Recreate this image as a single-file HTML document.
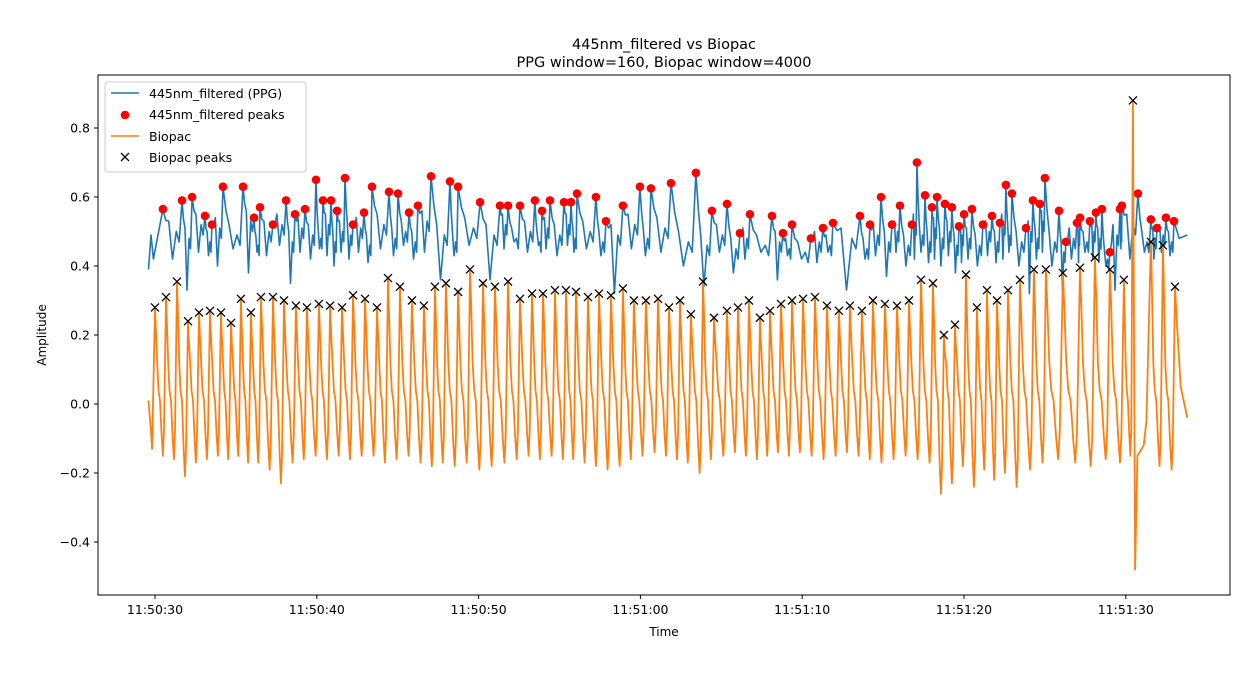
<!DOCTYPE html>
<html><head><meta charset="utf-8"><style>
html,body{margin:0;padding:0;background:#fff;}
svg text{font-family:"DejaVu Sans","Liberation Sans",sans-serif;}
</style></head><body>
<svg id="chart" width="1250" height="674" xmlns="http://www.w3.org/2000/svg">
<rect width="1250" height="674" fill="#fff"/>
<text x="664" y="49" font-size="14.5" text-anchor="middle">445nm_filtered vs Biopac</text>
<text x="664" y="67" font-size="14.5" text-anchor="middle">PPG window=160, Biopac window=4000</text>
<g id="plot"></g>
<rect x="98" y="75" width="1132" height="520" fill="none" stroke="#000" stroke-width="1"/>
<g id="axes"></g>
<text x="664" y="636" font-size="12" text-anchor="middle">Time</text>
<text x="46" y="335" font-size="12" text-anchor="middle" transform="rotate(-90 46 335)">Amplitude</text>
<g>
<rect x="105" y="82" width="201" height="90" rx="3" fill="#fff" fill-opacity="0.8" stroke="#ccc"/>
<line x1="111" y1="93" x2="139" y2="93" stroke="#1f77b4" stroke-width="1.5"/>
<text x="149" y="98" font-size="12.5">445nm_filtered (PPG)</text>
<circle cx="125" cy="115" r="4.3" fill="#ff0000"/>
<text x="149" y="119" font-size="12.5">445nm_filtered peaks</text>
<line x1="111" y1="136" x2="139" y2="136" stroke="#ff7f0e" stroke-width="1.5"/>
<text x="149" y="141" font-size="12.5">Biopac</text>
<path d="M121,153 l8,8 M129,153 l-8,8" stroke="#000" stroke-width="1.3"/>
<text x="149" y="162" font-size="12.5">Biopac peaks</text>
</g>
</svg>
<script>
// seconds after 11:50:30
const bioPeakT=[0.0,0.68,1.36,2.04,2.72,3.40,4.08,4.70,5.31,5.93,6.55,7.29,7.97,8.71,9.39,10.13,10.82,11.56,12.24,12.98,13.72,14.40,15.14,15.88,16.62,17.30,17.98,18.73,19.47,20.27,21.01,21.82,22.56,23.30,23.98,24.72,25.40,26.02,26.76,27.44,28.18,28.92,29.60,30.34,31.09,31.77,32.45,33.12,33.87,34.55,35.35,36.03,36.71,37.39,38.01,38.69,39.37,40.05,40.79,41.53,42.27,42.95,43.69,44.37,45.11,45.86,46.60,47.34,48.08,48.76,49.44,50.12,50.80,51.42,52.04,52.72,53.46,54.32,55.06,56.11,57.17,58.09,59.02,59.88,60.44,61.55,62.29,63.04];
const bioPeakV=[0.28,0.31,0.355,0.24,0.265,0.27,0.265,0.235,0.305,0.265,0.31,0.31,0.30,0.285,0.28,0.29,0.285,0.28,0.315,0.305,0.28,0.365,0.34,0.30,0.285,0.34,0.35,0.325,0.39,0.35,0.34,0.355,0.305,0.32,0.32,0.33,0.33,0.325,0.31,0.32,0.315,0.335,0.30,0.30,0.305,0.28,0.30,0.26,0.355,0.25,0.27,0.28,0.30,0.25,0.27,0.29,0.30,0.305,0.31,0.285,0.27,0.285,0.27,0.30,0.29,0.285,0.30,0.36,0.35,0.20,0.23,0.375,0.28,0.33,0.30,0.33,0.36,0.39,0.39,0.38,0.395,0.425,0.39,0.36,0.88,0.47,0.46,0.34];
const bioTrough=[-0.13,-0.15,-0.16,-0.21,-0.17,-0.16,-0.15,-0.16,-0.15,-0.17,-0.17,-0.19,-0.23,-0.17,-0.16,-0.15,-0.16,-0.15,-0.16,-0.15,-0.15,-0.17,-0.16,-0.15,-0.17,-0.18,-0.17,-0.18,-0.17,-0.19,-0.18,-0.17,-0.16,-0.15,-0.16,-0.15,-0.16,-0.16,-0.17,-0.18,-0.19,-0.18,-0.16,-0.15,-0.14,-0.15,-0.16,-0.17,-0.20,-0.16,-0.15,-0.14,-0.15,-0.16,-0.15,-0.14,-0.15,-0.14,-0.15,-0.16,-0.15,-0.14,-0.15,-0.16,-0.17,-0.16,-0.15,-0.16,-0.17,-0.26,-0.23,-0.18,-0.24,-0.19,-0.22,-0.20,-0.24,-0.19,-0.17,-0.16,-0.17,-0.18,-0.16,-0.17,-0.15,-0.48,-0.18,-0.19];
// fraction of beat interval where trough occurs (special beat after the large spike)
const bioTroughFrac={84:0.12};
const ppgPeakT=[0.49,1.67,2.29,3.09,3.52,4.20,5.44,6.12,6.49,7.29,8.10,8.65,9.27,9.95,10.38,10.88,11.25,11.74,12.24,12.92,13.41,14.46,15.02,15.70,16.25,17.06,18.23,18.73,20.09,21.32,21.82,22.56,23.48,23.92,24.41,25.28,25.71,26.08,27.25,27.87,28.92,29.97,30.65,31.89,33.43,34.42,35.35,36.15,36.77,38.13,38.81,39.37,40.54,41.28,41.90,43.57,44.19,44.87,45.55,46.04,46.78,47.09,47.59,48.02,48.33,48.82,49.25,49.69,50.00,50.49,51.17,51.73,52.22,52.59,52.96,53.83,54.26,54.69,55.00,55.87,56.30,56.98,57.17,57.78,58.15,58.52,59.02,59.64,59.76,60.75,61.55,61.92,62.48,62.98];
const ppgPeakV=[0.565,0.59,0.60,0.545,0.52,0.63,0.63,0.54,0.57,0.52,0.59,0.55,0.565,0.65,0.59,0.59,0.56,0.655,0.52,0.555,0.63,0.615,0.61,0.555,0.575,0.66,0.645,0.63,0.585,0.575,0.575,0.575,0.59,0.56,0.59,0.585,0.585,0.61,0.60,0.53,0.575,0.63,0.625,0.64,0.67,0.56,0.58,0.495,0.55,0.545,0.495,0.52,0.48,0.51,0.525,0.545,0.52,0.60,0.52,0.575,0.52,0.70,0.605,0.57,0.60,0.58,0.57,0.515,0.55,0.565,0.52,0.545,0.525,0.635,0.61,0.51,0.59,0.58,0.655,0.56,0.47,0.525,0.54,0.53,0.555,0.565,0.44,0.565,0.575,0.61,0.535,0.51,0.54,0.53];
const ppgTrough=[0.39,0.42,0.33,0.44,0.43,0.40,0.45,0.38,0.44,0.43,0.46,0.35,0.44,0.42,0.45,0.43,0.40,0.44,0.42,0.44,0.41,0.45,0.43,0.46,0.42,0.44,0.36,0.43,0.46,0.36,0.45,0.47,0.44,0.46,0.45,0.43,0.46,0.44,0.45,0.43,0.32,0.45,0.43,0.44,0.40,0.34,0.44,0.38,0.42,0.44,0.36,0.43,0.42,0.41,0.44,0.33,0.42,0.43,0.37,0.44,0.40,0.42,0.44,0.41,0.42,0.40,0.43,0.38,0.41,0.42,0.40,0.43,0.41,0.42,0.44,0.40,0.32,0.42,0.44,0.40,0.33,0.42,0.41,0.44,0.42,0.41,0.40,0.33,0.45,0.42,0.44,0.42,0.44,0.43,0.48];
const ppgMid=[0.47,0.50,0.48,0.52,0.47,0.51,0.49,0.53,0.46,0.50,0.52,0.47,0.51,0.49,0.48,0.52,0.47,0.50,0.49,0.51,0.46,0.52,0.48,0.50,0.47,0.53,0.49,0.47,0.51,0.49,0.52,0.48,0.50,0.47,0.51,0.49,0.52,0.48,0.50,0.47,0.49,0.52,0.48,0.51,0.47,0.46,0.49,0.45,0.48,0.46,0.47,0.45,0.44,0.47,0.46,0.48,0.45,0.49,0.47,0.50,0.46,0.52,0.49,0.47,0.51,0.48,0.50,0.46,0.49,0.48,0.46,0.50,0.47,0.52,0.49,0.47,0.50,0.48,0.53,0.47,0.44,0.48,0.49,0.47,0.50,0.48,0.42,0.49,0.50,0.52,0.47,0.48,0.49,0.47,0.48];
const yTicks=[-0.4,-0.2,0.0,0.2,0.4,0.6,0.8];
const xTicks=[0,10,20,30,40,50,60];
const xTickLabels=["11:50:30","11:50:40","11:50:50","11:51:00","11:51:10","11:51:20","11:51:30"];
const tStart=-0.4, tEnd=63.8;

const NS="http://www.w3.org/2000/svg";
const X=t=>155+t*16.18;
const Y=v=>404-v*345;
const plot=document.getElementById('plot'), axes=document.getElementById('axes');
function mk(tag,attrs,parent){const e=document.createElementNS(NS,tag);for(const k in attrs)e.setAttribute(k,attrs[k]);parent.appendChild(e);return e;}

// PPG line
let pp=[[tStart,ppgTrough[0]],[tStart+0.15,0.49],[tStart+0.3,0.42]];
for(let i=0;i<ppgPeakT.length;i++){
  if(i){
    const prev=ppgPeakT[i-1], d=ppgPeakT[i]-prev;
    pp.push([prev+0.15*d,(ppgPeakV[i-1]+ppgMid[i])/2]);
    pp.push([prev+0.3*d,ppgMid[i]+0.03]);
    pp.push([prev+0.5*d,ppgTrough[i]]);
    pp.push([prev+0.7*d,ppgMid[i]]);
    pp.push([prev+0.85*d,ppgMid[i]-0.03]);
  }
  pp.push([ppgPeakT[i],ppgPeakV[i]]);
}
pp.push([63.3,ppgMid[ppgMid.length-1]]);
pp.push([tEnd,0.49]);
const ppgLine=mk('path',{d:'M'+pp.map(p=>X(p[0]).toFixed(1)+','+Y(p[1]).toFixed(1)).join('L'),fill:'none',stroke:'#1f77b4','stroke-width':1.6,'stroke-linejoin':'round'},plot);



// Biopac line
let bp=[[tStart,0.01],[tStart+0.15,-0.08],[bioPeakT[0]-0.18,bioTrough[0]]];
for(let i=0;i<bioPeakT.length;i++){
  const t=bioPeakT[i],v=bioPeakV[i];
  bp.push([t,v]);
  if(i<bioPeakT.length-1){
    const nt=bioPeakT[i+1], d=nt-t, tr=bioTrough[i+1];
    const f=bioTroughFrac[i]!==undefined?bioTroughFrac[i]:0.72;
    if(f<0.5){
      bp.push([t+f*d,tr]);
      bp.push([t+0.25*d,-0.15]);
      bp.push([t+0.6*d,-0.12]);
      bp.push([nt-0.25*d,-0.05]);
    } else {
      bp.push([t+0.08*d,v*0.75]);
      bp.push([t+0.2*d,0.12]);
      bp.push([t+0.32*d,0.04]);
      bp.push([t+0.45*d,0.01]);
      bp.push([t+0.6*d,(tr*0.6)]);
      bp.push([t+f*d,tr]);
      bp.push([nt-0.18*d,tr+0.08]);
    }
  } else {
    bp.push([t+0.1,0.25]);
    bp.push([t+0.35,0.05]);
    bp.push([tEnd,-0.04]);
  }
}
const bioLine=mk('path',{d:'M'+bp.map(p=>X(p[0]).toFixed(1)+','+Y(p[1]).toFixed(1)).join('L'),fill:'none',stroke:'#ff7f0e','stroke-width':1.8,'stroke-linejoin':'round'},plot);



// markers
for(let i=0;i<ppgPeakT.length;i++){
  const c=mk('circle',{cx:X(ppgPeakT[i]),cy:Y(ppgPeakV[i]),r:4.3,fill:'#ff0000'},plot);
  
  
}
for(let i=0;i<bioPeakT.length;i++){
  const x=X(bioPeakT[i]),y=Y(bioPeakV[i]);
  const m=mk('path',{d:`M${x-4},${y-4}L${x+4},${y+4}M${x+4},${y-4}L${x-4},${y+4}`,stroke:'#000','stroke-width':1.3},plot);
  
  
}
// axes ticks
yTicks.forEach(v=>{
  const y=Y(v);
  const l=mk('line',{x1:94,x2:98,y1:y,y2:y,stroke:'#000'},axes);
  
  
  const t=mk('text',{x:90,y:y+4.5,'font-size':12.5,'text-anchor':'end'},axes);
  t.textContent=(v<0?'\u2212':'')+Math.abs(v).toFixed(1);
  
  
});
xTicks.forEach((s,i)=>{
  const x=X(s);
  const l=mk('line',{x1:x,x2:x,y1:595,y2:599,stroke:'#000'},axes);
  
  
  const t=mk('text',{x:x,y:614,'font-size':12.5,'text-anchor':'middle'},axes);
  t.textContent=xTickLabels[i];
  
  
});
</script>
</body></html>
